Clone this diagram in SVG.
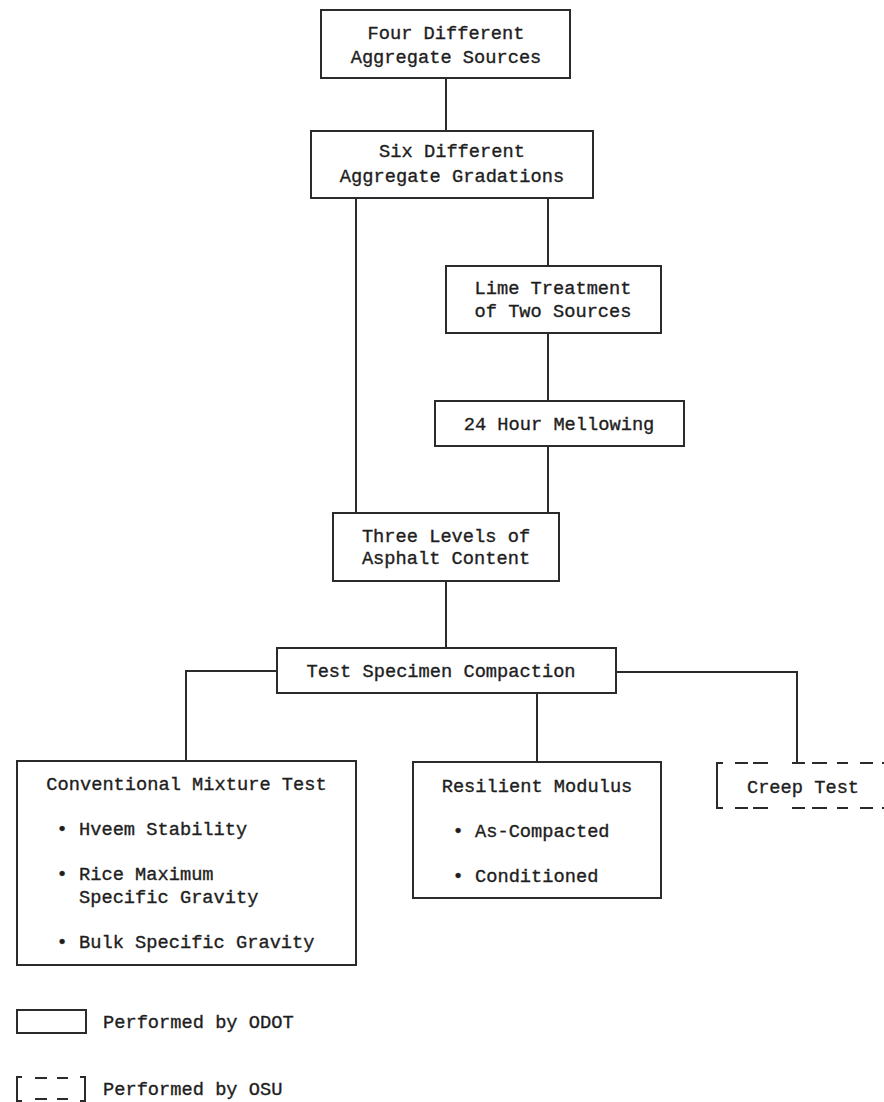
<svg xmlns="http://www.w3.org/2000/svg" width="884" height="1102" viewBox="0 0 884 1102">
  <style>
    .box { fill: #ffffff; stroke: #2b2b2b; stroke-width: 2; }
    .ln { fill: none; stroke: #2b2b2b; stroke-width: 2; }
    .t { font-family: "Liberation Mono", "DejaVu Sans Mono", monospace; font-size: 18.7px; fill: #1e1e1e; stroke: #1e1e1e; stroke-width: 0.35; }
    .c { text-anchor: middle; }
  </style>
  <rect width="884" height="1102" fill="#ffffff"/>

  <!-- connectors -->
  <g id="connectors">
    <path class="ln" d="M446 78 V131"/>
    <path class="ln" d="M356 198 V513"/>
    <path class="ln" d="M548 198 V266"/>
    <path class="ln" d="M548 333 V401"/>
    <path class="ln" d="M548 446 V513"/>
    <path class="ln" d="M446 581 V648"/>
    <path class="ln" d="M277 671 H186 V761"/>
    <path class="ln" d="M537 693 V762"/>
    <path class="ln" d="M616 672 H797 V763"/>
  </g>

  <g id="n-sources">
    <rect class="box" x="321" y="10" width="249" height="68"/>
    <text class="t c" x="446" y="39">Four Different</text>
    <text class="t c" x="446" y="63">Aggregate Sources</text>
  </g>

  <g id="n-gradations">
    <rect class="box" x="311" y="131" width="282" height="67"/>
    <text class="t c" x="452" y="157">Six Different</text>
    <text class="t c" x="452" y="182">Aggregate Gradations</text>
  </g>

  <g id="n-lime">
    <rect class="box" x="446" y="266" width="215" height="67"/>
    <text class="t c" x="553" y="294">Lime Treatment</text>
    <text class="t c" x="553" y="317">of Two Sources</text>
  </g>

  <g id="n-mellowing">
    <rect class="box" x="435" y="401" width="249" height="45"/>
    <text class="t c" x="559" y="430">24 Hour Mellowing</text>
  </g>

  <g id="n-asphalt">
    <rect class="box" x="333" y="513" width="226" height="68"/>
    <text class="t c" x="446" y="542">Three Levels of</text>
    <text class="t c" x="446" y="564">Asphalt Content</text>
  </g>

  <g id="n-compaction">
    <rect class="box" x="277" y="648" width="339" height="45"/>
    <text class="t c" x="441" y="677">Test Specimen Compaction</text>
  </g>

  <g id="n-conventional">
    <rect class="box" x="17" y="761" width="339" height="204"/>
    <text class="t c" x="186.5" y="790">Conventional Mixture Test</text>
    <text class="t c" x="62" y="835">•</text>
    <text class="t" x="79" y="835">Hveem Stability</text>
    <text class="t c" x="62" y="880">•</text>
    <text class="t" x="79" y="880">Rice Maximum</text>
    <text class="t" x="79" y="903">Specific Gravity</text>
    <text class="t c" x="62" y="948">•</text>
    <text class="t" x="79" y="948">Bulk Specific Gravity</text>
  </g>

  <g id="n-resilient">
    <rect class="box" x="413" y="762" width="248" height="136"/>
    <text class="t c" x="537" y="792">Resilient Modulus</text>
    <text class="t c" x="458" y="837">•</text>
    <text class="t" x="475" y="837">As-Compacted</text>
    <text class="t c" x="458" y="882">•</text>
    <text class="t" x="475" y="882">Conditioned</text>
  </g>

  <g id="n-creep">
    <path class="ln" d="M723 763 H717 V808 H723"/>
    <path class="ln" d="M735 763 H748 M753 763 H768 M792 763 H805 M812 763 H827 M837 763 H848 M860 763 H873 M882 763 H886"/>
    <path class="ln" d="M735 808 H748 M753 808 H768 M792 808 H805 M812 808 H827 M837 808 H848 M860 808 H873 M882 808 H886"/>
    <text class="t c" x="803" y="793">Creep Test</text>
  </g>

  <g id="legend">
    <rect class="box" x="17" y="1010" width="69" height="23"/>
    <text class="t" x="103" y="1028">Performed by ODOT</text>
    <path class="ln" d="M22 1077 H17 V1101 H22"/>
    <path class="ln" d="M80 1077 H85 V1101 H80"/>
    <path class="ln" d="M35 1078 H47 M57 1078 H68 M35 1099 H47 M57 1099 H68"/>
    <text class="t" x="103" y="1095">Performed by OSU</text>
  </g>
</svg>
